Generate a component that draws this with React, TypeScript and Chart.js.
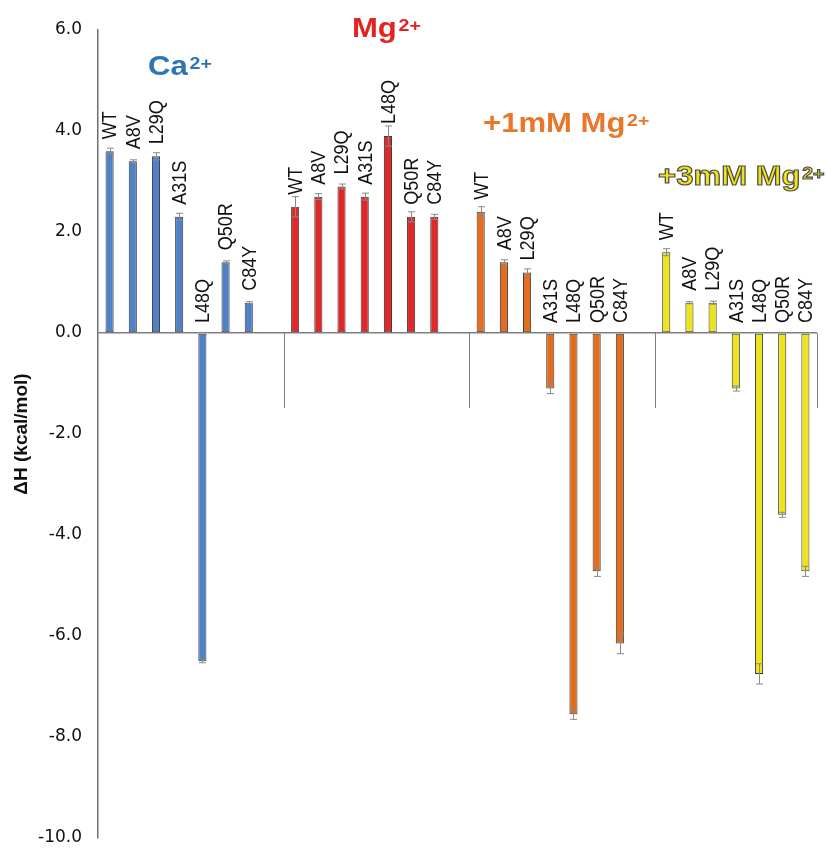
import React, { useEffect, useRef } from 'react';
import { Chart, registerables } from 'chart.js';

Chart.register(...registerables);

// ---------- data ----------
const mutants = ['WT', 'A8V', 'L29Q', 'A31S', 'L48Q', 'Q50R', 'C84Y'];
const groupTitles = ['Ca', 'Mg', '+1mM Mg', '+3mM Mg'];
const groupSuperscript = '2+';

const caValues = [3.6, 3.4, 3.5, 2.3, -6.5, 1.4, 0.6];
const caErrors = [0.06, 0.03, 0.07, 0.07, 0.03, 0.03, 0.02];
const mgValues = [2.5, 2.7, 2.9, 2.7, 3.9, 2.3, 2.3];
const mgErrors = [0.2, 0.06, 0.05, 0.07, 0.2, 0.1, 0.05];
const mg1mMValues = [2.4, 1.4, 1.2, -1.1, -7.55, -4.72, -6.15];
const mg1mMErrors = [0.1, 0.05, 0.07, 0.1, 0.1, 0.1, 0.2];
const mg3mMValues = [1.6, 0.6, 0.6, -1.1, -6.75, -3.6, -4.72];
const mg3mMErrors = [0.07, 0.02, 0.03, 0.05, 0.2, 0.05, 0.1];

const yMin = -10;
const yMax = 6;
const yStep = 2;
const yTitle = 'ΔH (kcal/mol)';

// ---------- styles ----------
const barColors = ['#4F81C7', '#E02828', '#E46C1E', '#EDE31F'];
const titleColors = ['#2E75B6', '#E32222', '#E8762B', '#F0E21A'];
const titleOutline = [null, null, null, '#4a4a4a'];
// title anchors: [category position of left edge, y value of baseline]
const titleAnchors = [
  [1.66, 5.11],
  [10.45, 5.86],
  [16.1, 3.98],
  [23.65, 2.93],
];
const STRETCH = 1.15;

const groupValues = [caValues, mgValues, mg1mMValues, mg3mMValues];
const groupErrors = [caErrors, mgErrors, mg1mMErrors, mg3mMErrors];
const slotsPerGroup = mutants.length + 1;

const labels: string[] = [];
groupValues.forEach((_, g) => {
  mutants.forEach((m) => labels.push(m));
  if (g < groupValues.length - 1) labels.push('');
});

const datasets = groupValues.map((vals, g) => {
  const data = labels.map((_, i) => {
    const gi = Math.floor(i / slotsPerGroup);
    const k = i % slotsPerGroup;
    return gi === g && k < mutants.length ? vals[k] : null;
  });
  const errs = labels.map((_, i) => {
    const gi = Math.floor(i / slotsPerGroup);
    const k = i % slotsPerGroup;
    return gi === g && k < mutants.length ? groupErrors[g][k] : null;
  });
  return {
    label: groupTitles[g] + groupSuperscript,
    data,
    errorBars: errs,
    backgroundColor: barColors[g],
    borderColor: '#3a3a3a',
    borderWidth: 1,
    borderSkipped: false,
    grouped: false,
    categoryPercentage: 1,
    barPercentage: 0.35,
  };
});

const overlayPlugin = {
  id: 'overlay',
  afterDatasetsDraw(chart: any) {
    const ctx = chart.ctx;
    const xs = chart.scales.x;
    const ys = chart.scales.y;
    const zeroY = ys.getPixelForValue(0);

    // group separators hanging from the zero line
    ctx.save();
    ctx.strokeStyle = '#7f7f7f';
    ctx.lineWidth = 1;
    for (let g = 1; g <= groupValues.length; g++) {
      const pos = g < groupValues.length ? g * slotsPerGroup - 0.5 : labels.length - 0.5;
      const x = Math.round(xs.getPixelForValue(pos)) + 0.5;
      ctx.beginPath();
      ctx.moveTo(x, zeroY);
      ctx.lineTo(x, zeroY + 75);
      ctx.stroke();
    }
    ctx.restore();

    // error bars
    chart.data.datasets.forEach((ds: any, di: number) => {
      const meta = chart.getDatasetMeta(di);
      meta.data.forEach((el: any, i: number) => {
        const v = ds.data[i];
        const e = ds.errorBars[i];
        if (v === null || e === null) return;
        const x = Math.round(el.x) + 0.5;
        const yT = ys.getPixelForValue(v + e);
        const yB = ys.getPixelForValue(v - e);
        ctx.save();
        ctx.strokeStyle = '#8a8a8a';
        ctx.lineWidth = 1;
        ctx.beginPath();
        ctx.moveTo(x, yT);
        ctx.lineTo(x, yB);
        ctx.moveTo(x - 3.5, yT);
        ctx.lineTo(x + 3.5, yT);
        ctx.moveTo(x - 3.5, yB);
        ctx.lineTo(x + 3.5, yB);
        ctx.stroke();
        ctx.restore();
      });
    });

    // rotated bar labels
    chart.data.datasets.forEach((ds: any, di: number) => {
      const meta = chart.getDatasetMeta(di);
      meta.data.forEach((el: any, i: number) => {
        const v = ds.data[i];
        if (v === null) return;
        const yAnchor = v >= 0 ? ys.getPixelForValue(v) - 12 : zeroY - 10;
        ctx.save();
        ctx.translate(el.x, yAnchor);
        ctx.scale(STRETCH, 1);
        ctx.rotate(-Math.PI / 2);
        ctx.font = '18px "Liberation Sans", Arial, sans-serif';
        ctx.fillStyle = '#111';
        ctx.textAlign = 'left';
        ctx.textBaseline = 'middle';
        ctx.fillText(labels[i], 0, 1);
        ctx.restore();
      });
    });

    // group titles with superscript
    groupTitles.forEach((t, g) => {
      const [cx, cy] = titleAnchors[g];
      const x = xs.getPixelForValue(cx);
      const y = ys.getPixelForValue(cy);
      ctx.save();
      ctx.translate(x, y);
      ctx.scale(STRETCH, 1);
      ctx.textAlign = 'left';
      ctx.textBaseline = 'alphabetic';
      ctx.fillStyle = titleColors[g];
      ctx.font = 'bold 27px "Liberation Sans", Arial, sans-serif';
      ctx.fillText(t, 0, 0);
      const w = ctx.measureText(t).width;
      if (titleOutline[g]) {
        ctx.strokeStyle = titleOutline[g] as string;
        ctx.lineWidth = 1.1;
        ctx.strokeText(t, 0, 0);
      }
      ctx.font = 'bold 17px "Liberation Sans", Arial, sans-serif';
      ctx.fillText(groupSuperscript, w + 1.5, -6);
      if (titleOutline[g]) ctx.strokeText(groupSuperscript, w + 1.5, -6);
      ctx.restore();
    });
  },
};

export default function App() {
  const canvasRef = useRef<HTMLCanvasElement | null>(null);

  useEffect(() => {
    if (!canvasRef.current) return;
    const chart = new Chart(canvasRef.current, {
      type: 'bar',
      data: { labels, datasets: datasets as any },
      options: {
        animation: false,
        responsive: false,
        devicePixelRatio: 1,
        layout: { padding: { top: 30, right: 9, bottom: 11, left: 0 } },
        plugins: {
          legend: { display: false },
          tooltip: { enabled: false },
        },
        scales: {
          x: {
            type: 'category',
            display: false,
            offset: true,
          },
          y: {
            min: yMin,
            max: yMax,
            afterFit(scale: any) {
              scale.width = 98;
              scale.paddingTop = 8;
              scale.paddingBottom = 8;
            },
            ticks: {
              stepSize: yStep,
              padding: 16,
              color: '#111',
              font: { family: '"DejaVu Sans", sans-serif', size: 17 },
              callback: (v: any) => Number(v).toFixed(1),
            },
            grid: {
              drawTicks: false,
              lineWidth: 1.5,
              color: (c: any) => (c.tick && c.tick.value === 0 ? '#7f7f7f' : 'rgba(0,0,0,0)'),
            },
            border: { display: true, color: '#6f6f6f', width: 1.5 },
            title: {
              display: true,
              text: yTitle,
              color: '#111',
              padding: { top: 10, bottom: 0 },
              font: { family: '"Liberation Sans", Arial, sans-serif', size: 19, weight: 'bold' },
            },
          },
        },
      },
      plugins: [overlayPlugin],
    });
    return () => chart.destroy();
  }, []);

  return (
    <div style={{ position: 'fixed', left: 0, top: 0, width: 826, height: 849, background: '#fff' }}>
      <canvas ref={canvasRef} width={826} height={849} style={{ display: 'block' }} />
    </div>
  );
}
